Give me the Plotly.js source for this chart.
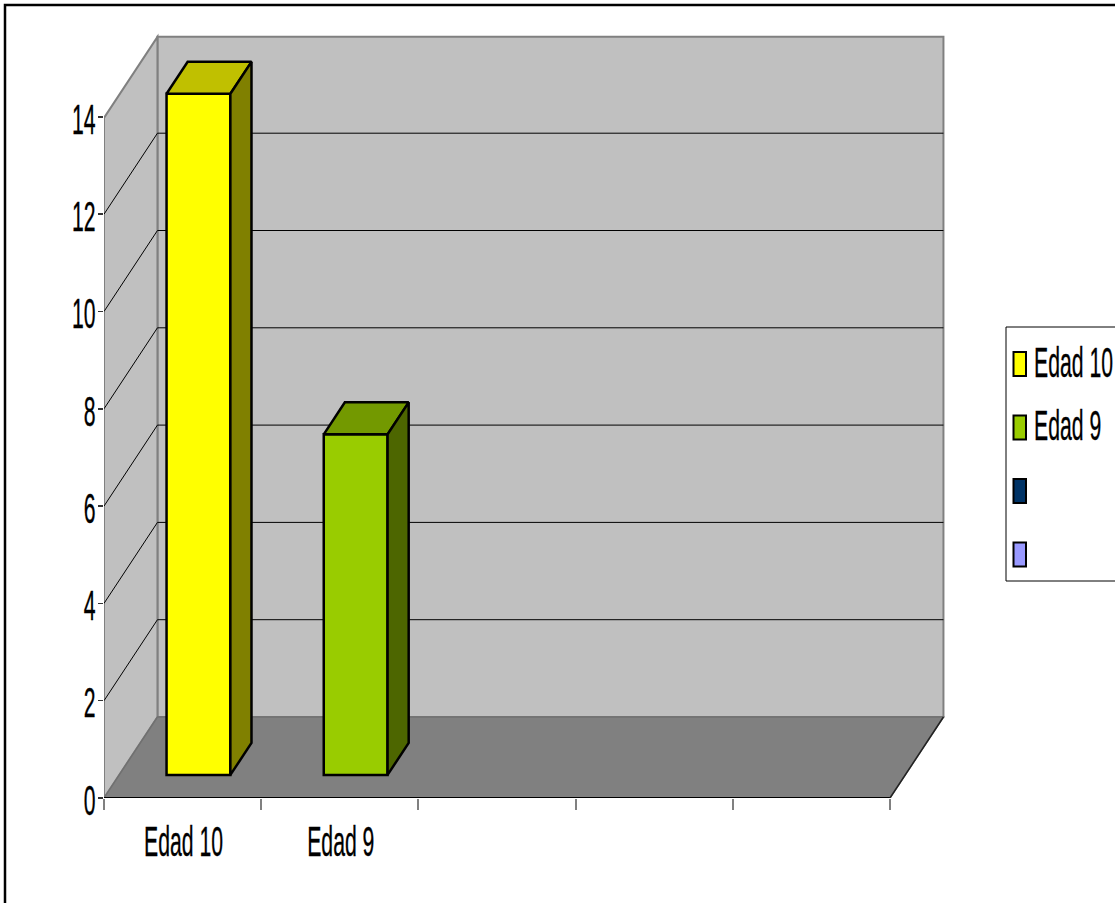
<!DOCTYPE html>
<html>
<head>
<meta charset="utf-8">
<script src="https://cdn.plot.ly/plotly-3.0.1.min.js"></script>
<style>html,body{margin:0;padding:0;background:#fff;overflow:hidden}#chart{width:1115px;height:903px}</style>
</head>
<body>
<div id="chart"></div>
<script>
// ---- data ----
var categories = ['Edad 10', 'Edad 9', '', '', ''];
var values = [14, 7];
var seriesNames = ['Edad 10', 'Edad 9', '', ''];
var seriesColors = ['#ffff00', '#99cc00', '#003366', '#9999ff'];
var topColors = ['#c0c000', '#739900'];
var sideColors = ['#808000', '#4d6600'];
var yTicks = [0, 2, 4, 6, 8, 10, 12, 14];
var wallTop = 13.98;

// ---- oblique projection, in axis units ----
var depthX = 0.34, depthY = 1.665;
function P(x, v, d) { return [x + depthX * d, v + depthY * d]; }
function pathOf(pts) {
  return pts.map(function (p, i) { return (i ? 'L' : 'M') + p[0] + ',' + p[1]; }).join(' ') + ' Z';
}
function lineOf(a, b) { return 'M' + a[0] + ',' + a[1] + ' L' + b[0] + ',' + b[1]; }

var W = 1115, H = 903;
var ml = 104, mb = 105;
var nCat = categories.length;
var grey = '#808080';
var shapes = [];
function pathShape(path, fill, lineColor, lineWidth) {
  shapes.push({ type: 'path', xref: 'x', yref: 'y', layer: 'below', path: path,
    fillcolor: fill || 'rgba(0,0,0,0)', line: { color: lineColor || 'rgba(0,0,0,0)', width: lineWidth || 0 } });
}
// back wall, side wall, floor
pathShape(pathOf([P(0, 0, 1), P(nCat, 0, 1), P(nCat, wallTop, 1), P(0, wallTop, 1)]), '#c0c0c0', grey, 2);
pathShape(pathOf([P(0, 0, 0), P(0, 0, 1), P(0, wallTop, 1), P(0, wallTop, 0)]), '#c0c0c0', grey, 2);
pathShape(pathOf([P(0, 0, 0), P(nCat, 0, 0), P(nCat, 0, 1), P(0, 0, 1)]), grey, '#707070', 1.5);
// gridlines
yTicks.forEach(function (t) {
  if (t === 0 || t === 14) return;
  pathShape(lineOf(P(0, t, 0), P(0, t, 1)), null, '#000', 1);
  pathShape(lineOf(P(0, t, 1), P(nCat, t, 1)), null, '#000', 1);
});
// front and right edges of the floor
pathShape(lineOf(P(0, 0, 0), P(nCat, 0, 0)), null, '#000', 2);
pathShape(lineOf(P(nCat, 0, 0), P(nCat, 0, 1)), null, '#222', 1.5);

// ---- bars ----
var d0 = 0.285, d1 = 0.68, barLo = 0.301, barHi = 0.707;
var traces = [];
values.forEach(function (v, i) {
  var a = i + barLo, b = i + barHi;
  var base = P(0, 0, d0)[1];
  traces.push({ type: 'bar', name: categories[i], x: [P((a + b) / 2, 0, d0)[0]], y: [v], base: [base],
    width: b - a, marker: { color: seriesColors[i], line: { color: '#000', width: 2.5 } }, showlegend: false, hoverinfo: 'name+y' });
});
function face(pts, color, name) {
  var c = pts.concat([pts[0]]);
  return { type: 'scatter', mode: 'lines', name: name, x: c.map(function (p) { return p[0]; }), y: c.map(function (p) { return p[1]; }),
    fill: 'toself', fillcolor: color, line: { color: '#000', width: 2.5 }, showlegend: false, hoverinfo: 'skip' };
}
values.forEach(function (v, i) {
  var a = i + barLo, b = i + barHi;
  traces.push(face([P(a, v, d0), P(b, v, d0), P(b, v, d1), P(a, v, d1)], topColors[i], categories[i] + ' top'));
  traces.push(face([P(b, 0, d0), P(b, 0, d1), P(b, v, d1), P(b, v, d0)], sideColors[i], categories[i] + ' side'));
});

// ---- pixel helpers for chart frame and legend ----
function px(x) { return (x - ml) / (W - ml); }
function py(y) { return (H - mb - y) / (H - mb); }
function boxPx(x0, y0, x1, y1, fill, color, width) {
  shapes.push({ type: 'rect', xref: 'paper', yref: 'paper', layer: 'above', x0: px(x0), x1: px(x1), y0: py(y0), y1: py(y1),
    fillcolor: fill, line: { color: color, width: width } });
}
// chart frame
boxPx(5, 5, 1130, 930, 'rgba(0,0,0,0)', '#000', 2.5);
// legend
boxPx(1006, 327, 1130, 581, '#fff', '#000', 1);
var annotations = [];
seriesNames.forEach(function (n, i) {
  var top = 352 + i * 63.5;
  boxPx(1013.5, top, 1026, top + 24, seriesColors[i], '#000', 2);
  if (n) annotations.push({ xref: 'paper', yref: 'paper', x: px(1032), y: py(top + 10), xanchor: 'left', yanchor: 'middle',
    align: 'left', text: n, showarrow: false, font: { family: 'Liberation Sans', size: 42, color: '#000' } });
});

var layout = {
  width: W, height: H, margin: { l: ml, r: 0, t: 0, b: mb, pad: 0 },
  paper_bgcolor: '#fff', plot_bgcolor: 'rgba(0,0,0,0)', showlegend: false, barmode: 'overlay',
  font: { family: 'Liberation Sans', size: 42, color: '#000' },
  xaxis: { type: 'linear', range: [0, (W - ml) / 157.2], showgrid: false, zeroline: false, showline: false,
    tickmode: 'array', tickvals: categories.map(function (c, i) { return i + 0.5; }), ticktext: categories,
    ticks: '', tickangle: 0, ticklabelstandoff: 15, ticklabelshift: 1,
    minor: { tickmode: 'array', tickvals: categories.map(function (c, i) { return i; }).concat([nCat]), ticks: 'outside', ticklen: 11, tickwidth: 2, tickcolor: grey, showgrid: false } },
  yaxis: { type: 'linear', range: [0, (H - mb) / 48.65], showgrid: false, zeroline: false, showline: false,
    tickmode: 'array', tickvals: yTicks, ticktext: yTicks.map(String), ticks: 'outside', ticklen: 5, tickwidth: 1.5, tickcolor: '#333',
    ticklabelstandoff: -6, ticklabelshift: 2 },
  shapes: shapes, annotations: annotations
};

Plotly.newPlot('chart', traces, layout, { displayModeBar: false, staticPlot: true }).then(function () {
  // the reference's lettering is squeezed horizontally: keep real text and condense its glyphs
  document.querySelectorAll('.xtick text, .ytick text, .annotation-text').forEach(function (t) {
    if (!t.textContent) return;
    var len = t.getComputedTextLength();
    t.setAttribute('lengthAdjust', 'spacingAndGlyphs');
    t.setAttribute('textLength', (len * 0.505).toFixed(1));
    t.style.stroke = '#000';
    t.style.strokeWidth = '0.35px';
  });
});
</script>
</body>
</html>
